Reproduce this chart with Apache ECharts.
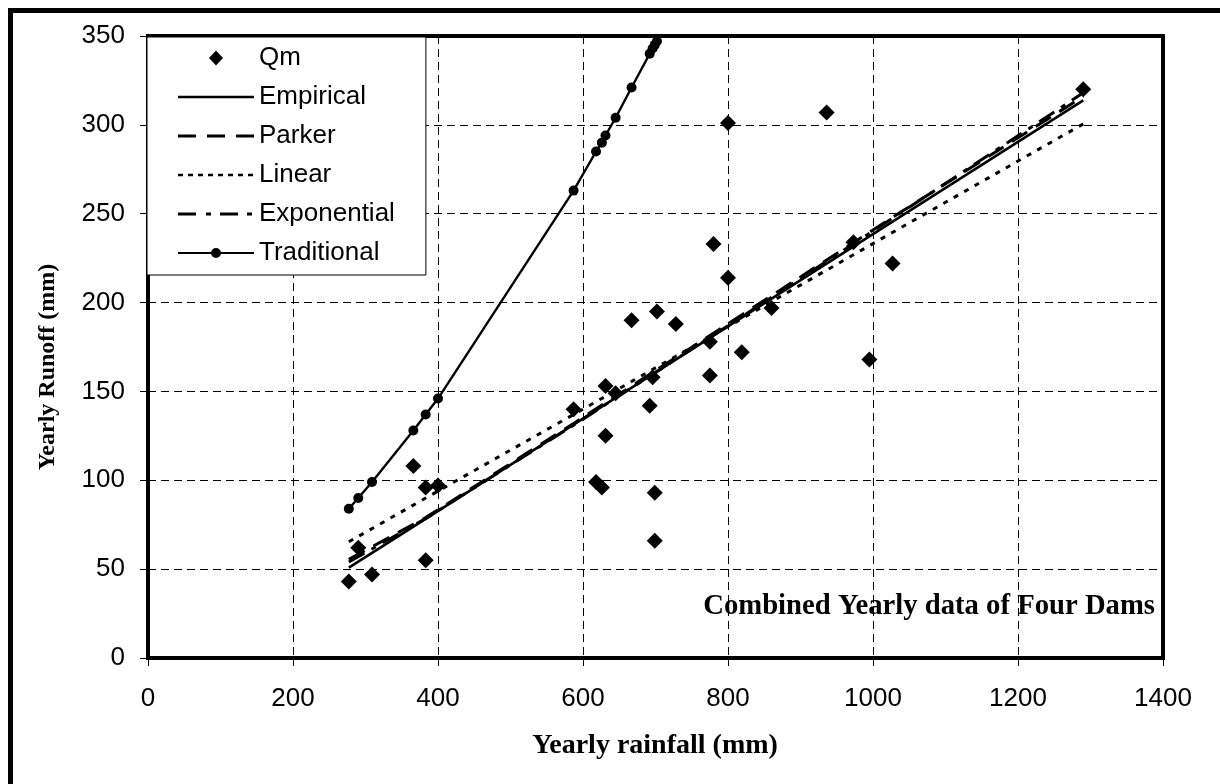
<!DOCTYPE html>
<html>
<head>
<meta charset="utf-8">
<script src="https://cdn.jsdelivr.net/npm/echarts@6/dist/echarts.min.js"></script>
<style>
html,body{margin:0;padding:0;background:#fff;}
#chart{width:1220px;height:784px;}
</style>
</head>
<body>
<div id="chart"></div>
<script>
// ---- Data ----
const qmRain = [277,290,309,366,383,383,400,587,618,626,631,631,645,667,692,696,699,699,702,728,775,775,780,800,800,819,860,936,973,995,1027,1290];
const qmRunoff = [43,62,47,108,96,55,97,140,99,96,153,125,149,190,142,158,93,66,195,188,178,159,233,301,214,172,197,307,234,168,222,320];

const fitRain = [277,383,587,800,1027,1290];
const empiricalRunoff = [50.8,78.3,131.3,186.6,245.5,313.8];
const parkerRunoff = [55.5,79,132,188,248,316];
const linearRunoff = [65.4,90,137,186.5,239.5,300.5];
const exponentialRunoff = [54,78.5,131,187,247.5,318];

const tradRain = [277,290,309,366,383,400,587,618,626,631,645,667,692,696,699,702,728];
const tradRunoff = [84,90,99,128,137,146,263,285,290,294,304,321,340,343,345,347,366];

const xTicks = [0,200,400,600,800,1000,1200,1400];
const yTicks = [0,50,100,150,200,250,300,350];

const seriesNames = ['Qm','Empirical','Parker','Linear','Exponential','Traditional'];
const xTitle = 'Yearly rainfall (mm)';
const yTitle = 'Yearly Runoff (mm)';
const note = 'Combined Yearly data of Four Dams';

// ---- helpers ----
const pair = (xs, ys) => xs.map((x, i) => [x, ys[i]]);
const SANS = 'Liberation Sans, Arial, sans-serif';
const SERIF = 'Liberation Serif, Times New Roman, serif';

// legend icons (76 x 20 box)
const corners = 'M0 0L0.01 0L0 0.01Z M76 20L75.99 20L76 19.99Z ';
function rectP(x0, x1, y0, y1){ return 'M'+x0+' '+y0+'L'+x1+' '+y0+'L'+x1+' '+y1+'L'+x0+' '+y1+'Z '; }
const iconQm = 'path://' + corners + 'M38 2.5L45 10L38 17.5L31 10Z';
const iconEmp = 'path://' + corners + rectP(0,76,8.8,11.2);
const iconPark = 'path://' + corners + rectP(0,18,8.5,11.5) + rectP(29,47,8.5,11.5) + rectP(58,76,8.5,11.5);
let lin = '';
for (let i = 0; i < 8; i++) lin += rectP(i*10, i*10+5, 8.7, 11.3);
const iconLin = 'path://' + corners + lin;
const iconExp = 'path://' + corners + rectP(0,18,8.5,11.5) + rectP(28,33,8.5,11.5) + rectP(42,60,8.5,11.5) + rectP(69,74,8.5,11.5);
const iconTrad = 'path://' + corners + rectP(0,33,8.9,11.1) + rectP(43,76,8.9,11.1) + 'M33 10A5 5 0 1 1 43 10A5 5 0 1 1 33 10Z';
const icons = [iconQm, iconEmp, iconPark, iconLin, iconExp, iconTrad];

const chart = echarts.init(document.getElementById('chart'), null, {renderer: 'canvas'});

const option = {
  animation: false,
  backgroundColor: '#fff',
  grid: {
    left: 148, top: 36, right: 57, bottom: 126,
    show: true, borderColor: '#000', borderWidth: 4, backgroundColor: 'transparent'
  },
  xAxis: {
    type: 'value', min: xTicks[0], max: xTicks[xTicks.length-1], interval: 200,
    axisLine: {show: false},
    axisTick: {show: true, inside: false, length: 8, lineStyle: {color: '#000', width: 1}},
    axisLabel: {color: '#000', fontSize: 26, fontFamily: SANS, margin: 28, formatter: v => String(v)},
    splitLine: {show: true, lineStyle: {color: '#000', width: 1, type: [8,5]}}
  },
  yAxis: {
    type: 'value', min: yTicks[0], max: yTicks[yTicks.length-1], interval: 50,
    axisLine: {show: false},
    axisTick: {show: true, inside: false, length: 8, lineStyle: {color: '#000', width: 1}},
    axisLabel: {color: '#000', fontSize: 26, fontFamily: SANS, margin: 23, formatter: v => String(v)},
    splitLine: {show: true, lineStyle: {color: '#000', width: 1, type: [8,5]}}
  },
  legend: {
    orient: 'vertical', left: 147, top: 37,
    itemWidth: 76, itemHeight: 20, itemGap: 13,
    padding: [8, 31, 9, 31],
    backgroundColor: '#fff', borderColor: '#000', borderWidth: 1,
    textStyle: {color: '#000', fontSize: 26, fontFamily: SANS},
    itemStyle: {borderWidth: 0, opacity: 1},
    z: 10,
    data: seriesNames.map((n, i) => ({name: n, icon: icons[i], itemStyle: {color: '#000', opacity: 1}}))
  },
  graphic: [
    {type: 'rect', shape: {x: 8, y: 8, width: 1212, height: 5}, style: {fill: '#000'}, z: 100},
    {type: 'rect', shape: {x: 8, y: 8, width: 5, height: 776}, style: {fill: '#000'}, z: 100},
    {type: 'text', x: 48, y: 367, rotation: Math.PI/2, z: 100,
      style: {text: yTitle, fill: '#000', font: 'bold 24px ' + SERIF, align: 'center', verticalAlign: 'middle', textAlign: 'center', textVerticalAlign: 'middle'}},
    {type: 'text', x: 655, y: 746, z: 100,
      style: {text: xTitle, fill: '#000', font: 'bold 28px ' + SERIF, align: 'center', verticalAlign: 'middle', textAlign: 'center', textVerticalAlign: 'middle'}},
    {type: 'text', x: 1155, y: 607, z: 100,
      style: {text: note, fill: '#000', font: 'bold 28.7px ' + SERIF, align: 'right', verticalAlign: 'middle', textAlign: 'right', textVerticalAlign: 'middle'}}
  ],
  series: [
    {name: 'Qm', type: 'scatter', data: pair(qmRain, qmRunoff),
      symbol: 'diamond', symbolSize: [16, 16], itemStyle: {color: '#000', opacity: 1}, z: 3},
    {name: 'Empirical', type: 'line', data: pair(fitRain, empiricalRunoff), symbol: 'none',
      lineStyle: {color: '#000', width: 2.6, type: 'solid'}, itemStyle: {color: '#000'}, z: 4},
    {name: 'Parker', type: 'line', data: pair(fitRain, parkerRunoff), symbol: 'none',
      lineStyle: {color: '#000', width: 3, type: [18, 10]}, itemStyle: {color: '#000'}, z: 4},
    {name: 'Linear', type: 'line', data: pair(fitRain, linearRunoff), symbol: 'none',
      lineStyle: {color: '#000', width: 3, type: [5, 7]}, itemStyle: {color: '#000'}, z: 4},
    {name: 'Exponential', type: 'line', data: pair(fitRain, exponentialRunoff), symbol: 'none',
      lineStyle: {color: '#000', width: 3, type: [18, 8, 5, 8]}, itemStyle: {color: '#000'}, z: 4},
    {name: 'Traditional', type: 'line', data: pair(tradRain, tradRunoff),
      symbol: 'circle', symbolSize: 10, showSymbol: true, showAllSymbol: true,
      lineStyle: {color: '#000', width: 2.4}, itemStyle: {color: '#000'}, z: 4}
  ]
};
chart.setOption(option);
</script>
</body>
</html>
